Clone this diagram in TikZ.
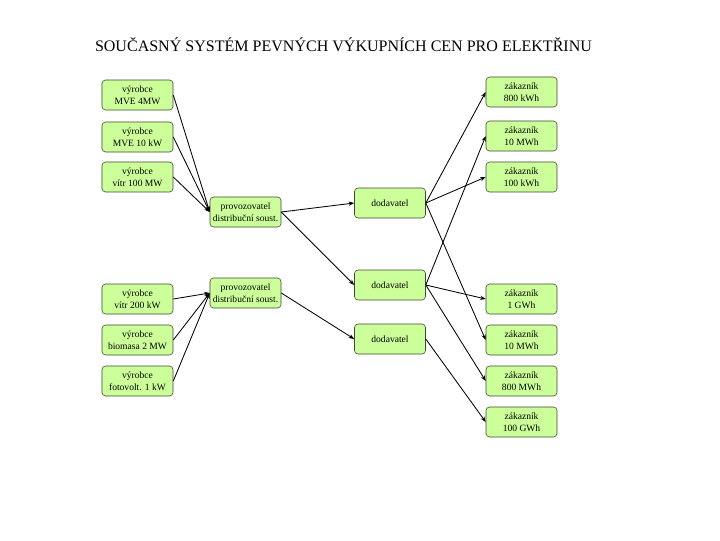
\documentclass[tikz,border=0pt]{standalone}
\usepackage{fontspec}
\setmainfont{Liberation Serif}
\usetikzlibrary{arrows.meta, positioning}
\definecolor{boxfill}{RGB}{204,255,153}
\definecolor{boxline}{RGB}{60,72,50}

\begin{document}
\begin{tikzpicture}[x=0.025cm, y=-0.025cm, >={Stealth[length=4pt, width=3pt]},
  unit/.style={draw=boxline, rounded corners=2.5pt, fill=boxfill, minimum width=1.775cm, minimum height=0.75cm,
    align=center, inner sep=1pt, font=\fontsize{6.8}{8.6}\selectfont},
  flow/.style={->, line width=0.6pt}]
\useasboundingbox (0,0) rectangle (720,540);
\node[font=\fontsize{11.4}{13}\selectfont] (title) at (343.5,45) {SOUČASNÝ SYSTÉM PEVNÝCH VÝKUPNÍCH CEN PRO ELEKTŘINU};
% vyrobci
\node[unit] (v1) at (137.5,95) {výrobce\\MVE 4MW};
\node[unit] (v2) at (137.5,137) {výrobce\\MVE 10 kW};
\node[unit] (v3) at (137.5,177) {výrobce\\vítr 100 MW};
\node[unit] (v4) at (137.5,299) {výrobce\\vítr 200 kW};
\node[unit] (v5) at (137.5,340) {výrobce\\biomasa 2 MW};
\node[unit] (v6) at (137.5,381) {výrobce\\fotovolt. 1 kW};
% provozovatele
\node[unit] (p1) at (245.5,212) {provozovatel\\distribuční soust.};
\node[unit] (p2) at (245.5,293) {provozovatel\\distribuční soust.};
% dodavatele
\node[unit] (d1) at (390,203) {dodavatel};
\node[unit] (d2) at (390,285) {dodavatel};
\node[unit] (d3) at (390,339) {dodavatel};
% zakaznici
\node[unit] (z1) at (521.5,92) {zákazník\\800 kWh};
\node[unit] (z2) at (521.5,136) {zákazník\\10 MWh};
\node[unit] (z3) at (521.5,177) {zákazník\\100 kWh};
\node[unit] (z4) at (521.5,299) {zákazník\\1 GWh};
\node[unit] (z5) at (521.5,340) {zákazník\\10 MWh};
\node[unit] (z6) at (521.5,381) {zákazník\\800 MWh};
\node[unit] (z7) at (521.5,422) {zákazník\\100 GWh};
\foreach \n in {v1,v2,v3} { \draw[flow] (\n.east) -- (p1.west); }
\foreach \n in {v4,v5,v6} { \draw[flow] (\n.east) -- (p2.west); }
\draw[flow] (p1.east) -- (d1.west);
\draw[flow] (p1.east) -- (d2.west);
\draw[flow] (p2.east) -- (d3.west);
\foreach \n in {z1,z3,z5} { \draw[flow] (d1.east) -- (\n.west); }
\foreach \n in {z2,z4,z6} { \draw[flow] (d2.east) -- (\n.west); }
\draw[flow] (d3.east) -- (z7.west);
\end{tikzpicture}
\end{document}
